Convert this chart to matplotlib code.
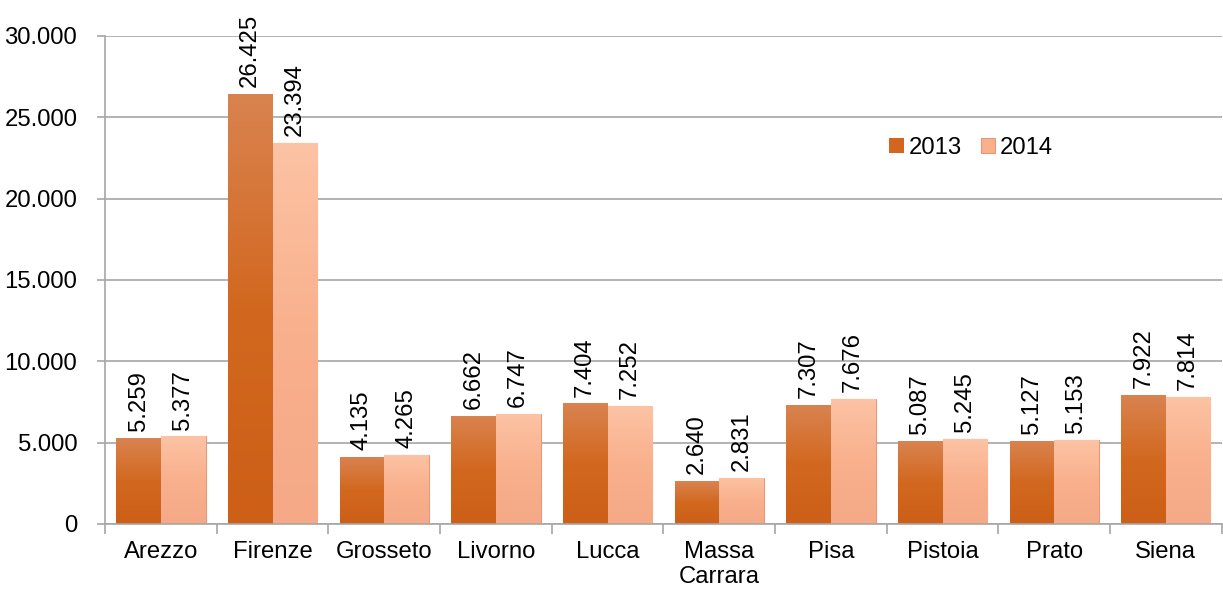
import numpy as np
import matplotlib.pyplot as plt
from matplotlib.colors import LinearSegmentedColormap

plt.rcParams['font.family'] = ['Liberation Sans', 'DejaVu Sans']

province = ['Arezzo', 'Firenze', 'Grosseto', 'Livorno', 'Lucca',
            'Massa\nCarrara', 'Pisa', 'Pistoia', 'Prato', 'Siena']
v2013 = [5259, 26425, 4135, 6662, 7404, 2640, 7307, 5087, 5127, 7922]
v2014 = [5377, 23394, 4265, 6747, 7252, 2831, 7676, 5245, 5153, 7814]
years = ['2013', '2014']


def fmt(v):
    return f'{v:,}'.replace(',', '.')


fig = plt.figure(figsize=(12.23, 5.9), dpi=100)
ax = fig.add_axes([0.0859, 0.112, 0.913, 0.827])

x = np.arange(len(province))
w = 0.4
fs = 17.2

# vertical gradients (top -> bottom) for the two series
cm13 = LinearSegmentedColormap.from_list('c13', ['#D98350', '#D2681F', '#CD5F17'])
cm14 = LinearSegmentedColormap.from_list('c14', ['#FCC3A4', '#F9B08C', '#F5A987'])
grad = np.linspace(0, 1, 256).reshape(-1, 1)

b1 = ax.bar(x - w / 2, v2013, w, color='#D2661F', label=years[0], zorder=2)
b2 = ax.bar(x + w / 2, v2014, w, color='#F9B08C', label=years[1], zorder=2,
            edgecolor='#E8987A', linewidth=0.8)

for bars, cm in ((b1, cm13), (b2, cm14)):
    for r in bars:
        x0, y0 = r.get_x(), r.get_y()
        im = ax.imshow(grad, cmap=cm, aspect='auto', zorder=2.1,
                       extent=(x0, x0 + r.get_width(), y0, y0 + r.get_height()))
        im.set_clip_path(r)

for bars, vals in ((b1, v2013), (b2, v2014)):
    for r, v in zip(bars, vals):
        ax.annotate(fmt(v), (r.get_x() + r.get_width() / 2, v),
                    xytext=(0, 5), textcoords='offset points',
                    rotation=90, ha='center', va='bottom', fontsize=fs)

ax.set_xlim(-0.5, len(province) - 0.5)
ax.set_ylim(0, 30000)
ax.set_yticks(np.arange(0, 30001, 5000))
ax.set_yticklabels([fmt(t) for t in range(0, 30001, 5000)], fontsize=fs)
ax.yaxis.grid(True, color='#A6A6A6', linewidth=1.2, zorder=0)
ax.set_axisbelow(True)

ax.set_xticks(x)
ax.set_xticklabels(province, fontsize=fs, linespacing=1.2)
ax.tick_params(axis='x', length=0, pad=12)
ax.set_xticks(np.arange(-0.5, len(province) + 0.5, 1), minor=True)
ax.tick_params(axis='x', which='minor', length=7, color='#A6A6A6', width=1.2)
ax.tick_params(axis='y', length=6, color='#A6A6A6', width=1.2, pad=14)

for s in ('top', 'right'):
    ax.spines[s].set_visible(False)
for s in ('left', 'bottom'):
    ax.spines[s].set_color('#A6A6A6')
    ax.spines[s].set_linewidth(1.2)

ax.legend(loc='upper left', bbox_to_anchor=(0.683, 0.837), frameon=False,
          fontsize=fs, ncol=2, handlelength=0.6, handleheight=0.6,
          handletextpad=0.2, columnspacing=0.8)

fig.savefig('out.png', dpi=100)
